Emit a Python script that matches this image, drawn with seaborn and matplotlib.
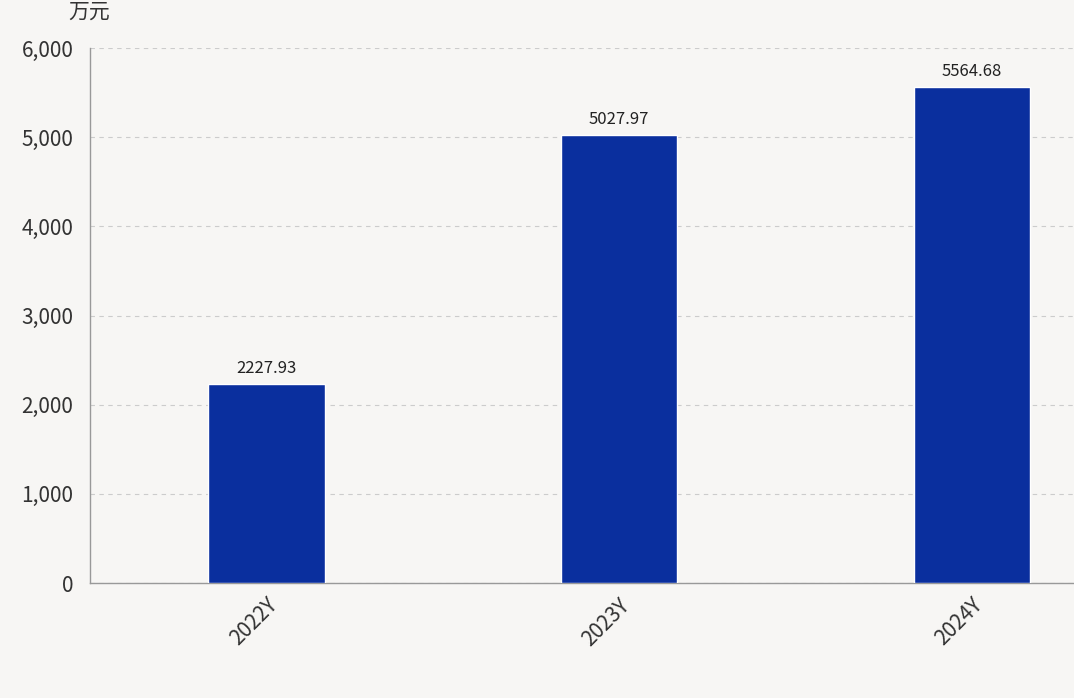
import matplotlib
matplotlib.use("Agg")
import matplotlib.pyplot as plt
import seaborn as sns
import pandas as pd

years = ["2022Y", "2023Y", "2024Y"]
values = [2227.93, 5027.97, 5564.68]
y_ticks = [0, 1000, 2000, 3000, 4000, 5000, 6000]

sns.set_style("white")
plt.rcParams['font.family'] = ['Noto Sans CJK SC', 'DejaVu Sans']

bg = "#f7f6f4"
fig = plt.figure(figsize=(10.74, 6.98), dpi=100, facecolor=bg)
ax = fig.add_axes([90 / 1074, 1 - 583 / 698, 1 - 90 / 1074, (583 - 48) / 698])
ax.set_facecolor(bg)

df = pd.DataFrame({"year": years, "value": values})
sns.barplot(data=df, x="year", y="value", color="#0a2f9e", saturation=1,
            width=0.33, ax=ax, zorder=3)

for i, v in enumerate(values):
    ax.text(i, v + 80, f"{v:.2f}", ha="center", va="bottom", fontsize=12, color="#222222")

ax.set_xlim(-0.5, 2.29)
ax.set_ylim(0, 6000)
ax.set_yticks(y_ticks)
ax.set_yticklabels([f"{t:,}" for t in y_ticks], fontsize=15, color="#333333")
ax.tick_params(axis="x", labelsize=15, labelcolor="#333333", rotation=45, length=0, pad=8)
ax.tick_params(axis="y", length=0, pad=12)
for lab in ax.get_xticklabels():
    lab.set_ha("right")
    lab.set_rotation_mode("anchor")
ax.yaxis.grid(True, linestyle=(0, (4, 4)), color="#cccccc", linewidth=0.8, zorder=0)
ax.set_xlabel("")
ax.set_ylabel("")
for s in ["top", "right"]:
    ax.spines[s].set_visible(False)
for s in ["left", "bottom"]:
    ax.spines[s].set_color("#999999")
    ax.spines[s].set_linewidth(1)

fig.text(68 / 1074, 1 - 12 / 698, "万元", fontsize=15, color="#333333", va="center")

fig.savefig("out.png", dpi=100, facecolor=bg)
